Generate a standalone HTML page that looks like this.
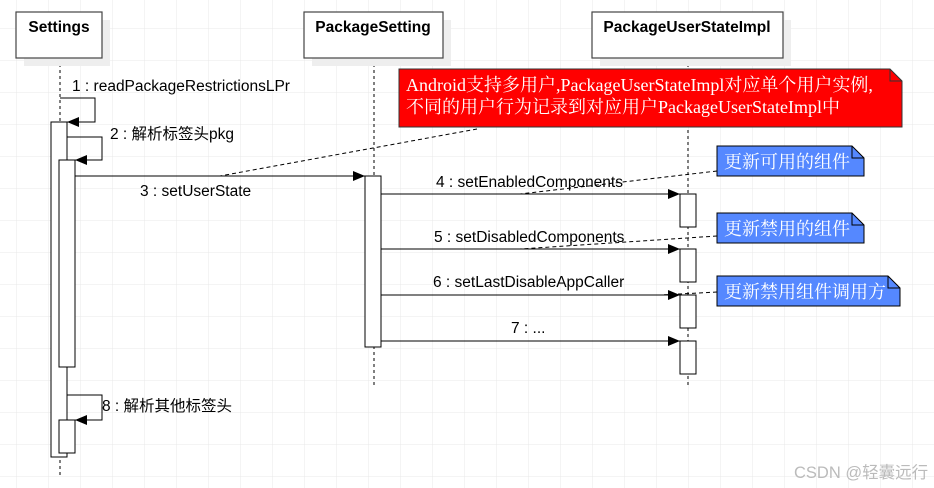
<!DOCTYPE html>
<html><head><meta charset="utf-8"><style>
html,body{margin:0;padding:0;background:#fff}
svg{display:block}
text{font-family:"Liberation Sans","Noto Sans CJK SC",sans-serif;font-size:15.5px;fill:#000}
.s{font-family:"Liberation Serif","Noto Serif CJK SC",serif;font-size:18px;fill:#fff}
</style></head><body>
<svg width="934" height="488" viewBox="0 0 934 488" xmlns="http://www.w3.org/2000/svg">
<defs>
<pattern id="g" x="16" y="28" width="32" height="32" patternUnits="userSpaceOnUse">
<path d="M0 0H32M0 0V32" stroke="#e8e8e8" stroke-width="1" fill="none"/>
</pattern>
<marker id="a" markerWidth="12" markerHeight="10" refX="12" refY="5" orient="auto" markerUnits="userSpaceOnUse">
<path d="M0 0L12 5L0 10Z" fill="#000"/></marker>
</defs>
<rect width="934" height="488" fill="url(#g)"/>
<g stroke="#000" stroke-dasharray="3,3" stroke-width="1">
<line x1="60" y1="58" x2="60" y2="475"/>
<line x1="374" y1="58" x2="374" y2="388"/>
<line x1="688" y1="58" x2="688" y2="388"/>
</g>
<g fill="#eee"><rect x="24" y="20" width="86" height="46"/><rect x="312" y="20" width="139" height="46"/><rect x="600" y="20" width="191" height="46"/></g>
<g fill="#fff" stroke="#444" stroke-width="1.2">
<rect x="16" y="12" width="86" height="46"/><rect x="304" y="12" width="139" height="46"/><rect x="592" y="12" width="191" height="46"/>
</g>
<g text-anchor="middle">
<text x="59" y="32" font-weight="bold" font-size="15">Settings</text>
<text x="373" y="32" font-weight="bold" font-size="15">PackageSetting</text>
<text x="687" y="32" font-weight="bold" font-size="15">PackageUserStateImpl</text>
</g>
<g fill="#fff" stroke="#000" stroke-width="1">
<rect x="51" y="122" width="16" height="335"/>
<rect x="59" y="160" width="16" height="207"/>
<rect x="59" y="420" width="16" height="33"/>
<rect x="365" y="176" width="16" height="171"/>
<rect x="680" y="194" width="16" height="33"/>
<rect x="680" y="249" width="16" height="33"/>
<rect x="680" y="295" width="16" height="33"/>
<rect x="680" y="341" width="16" height="33"/>
</g>
<g stroke="#000" stroke-width="1" fill="none">
<path d="M60 98H95V122H67" marker-end="url(#a)"/>
<path d="M67 137H102V160H75" marker-end="url(#a)"/>
<path d="M67 395H102V420H75" marker-end="url(#a)"/>
<path d="M75 176H365" marker-end="url(#a)"/>
<path d="M381 194H680" marker-end="url(#a)"/>
<path d="M381 249H680" marker-end="url(#a)"/>
<path d="M381 295H680" marker-end="url(#a)"/>
<path d="M381 341H680" marker-end="url(#a)"/>
</g>
<text x="72" y="91">1 : readPackageRestrictionsLPr</text>
<text x="110" y="139">2 : 解析标签头pkg</text>
<text x="140" y="196">3 : setUserState</text>
<text x="436" y="187">4 : setEnabledComponents</text>
<text x="434" y="242">5 : setDisabledComponents</text>
<text x="433" y="287">6 : setLastDisableAppCaller</text>
<text x="511" y="333">7 : ...</text>
<text x="102" y="411">8 : 解析其他标签头</text>
<g stroke="#000" stroke-dasharray="4,3" stroke-width="1">
<line x1="477" y1="129" x2="220" y2="176"/>
<line x1="717" y1="171" x2="520" y2="194"/>
<line x1="717" y1="236" x2="520" y2="249"/>
<line x1="717" y1="292" x2="660" y2="295"/>
</g>
<path d="M399 69H890L902 81V127H399Z" fill="#ff0000" stroke="#333" stroke-width="1"/>
<path d="M890 69V81H902" fill="none" stroke="#333"/>
<text class="s" x="406" y="91">Android支持多用户,PackageUserStateImpl对应单个用户实例,</text>
<text class="s" x="406" y="113">不同的用户行为记录到对应用户PackageUserStateImpl中</text>
<g fill="#5588ff" stroke="#000" stroke-width="1">
<path d="M717 146H852L864 158V176H717Z"/>
<path d="M717 213H852L864 225V243H717Z"/>
<path d="M717 276H888L900 288V306H717Z"/>
</g>
<g fill="none" stroke="#000"><path d="M852 146V158H864M852 213V225H864M888 276V288H900"/></g>
<text class="s" x="724" y="168">更新可用的组件</text>
<text class="s" x="724" y="235">更新禁用的组件</text>
<text class="s" x="724" y="298">更新禁用组件调用方</text>
<text x="794" y="478" style="fill:#bbb;font-size:16.5px">CSDN @轻囊远行</text>
</svg>
</body></html>
